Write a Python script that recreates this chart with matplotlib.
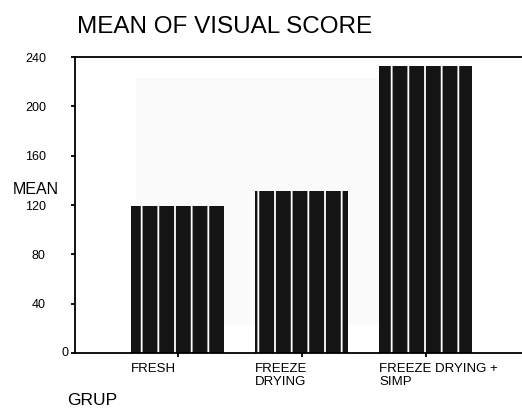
import matplotlib
matplotlib.use("Agg")
import matplotlib.pyplot as plt
import matplotlib.transforms as mtransforms
from matplotlib.patches import Rectangle

categories = ["FRESH", "FREEZE\nDRYING", "FREEZE DRYING +\nSIMP"]
means = [119, 131, 233]
yticks = [0, 40, 80, 120, 160, 200, 240]

plt.rcParams['font.family'] = ['Liberation Sans', 'DejaVu Sans']
plt.rcParams['hatch.linewidth'] = 1.3

fig = plt.figure(figsize=(5.22, 4.15), dpi=100)
ax = fig.add_axes([75/522, 62/415, 1 - 75/522, 296/415])

x = list(range(len(categories)))
# faint scanned background patch
ax.add_patch(Rectangle((0.136, 0.095), 0.546, 0.834, transform=ax.transAxes,
                       facecolor='#fafafa', edgecolor='none', zorder=0))
ax.bar(x, means, width=0.75, color='#141414', edgecolor='white', linewidth=0,
       hatch='|', zorder=2)

ax.set_xlim(-0.827, 2.778)
ax.set_ylim(0, 240)
ax.set_yticks(yticks)
ax.set_yticklabels([str(v) if v != 0 else '' for v in yticks], fontsize=9)
ax.set_xticks(x)
ax.set_xticklabels([])

trans = mtransforms.blended_transform_factory(ax.transData, ax.transAxes)
for i, lab in enumerate(categories):
    ax.text(i - 0.375, -0.035, lab, transform=trans, ha='left', va='top',
            fontsize=9.5, linespacing=1.05)

for s in ['left', 'top', 'bottom']:
    ax.spines[s].set_linewidth(1.3)
ax.spines['right'].set_visible(False)
ax.tick_params(axis='y', direction='out', length=3, width=1.3, pad=18)
ax.tick_params(axis='x', direction='out', length=3, width=1.3)

# zero label sits closer to the axis
ytr = mtransforms.blended_transform_factory(fig.transFigure, ax.transData)
ax.text(62/522, 0, "0", transform=ytr, fontsize=9, ha='left', va='center')

fig.text(77/522, 1 - 33/415, "MEAN OF VISUAL SCORE", fontsize=17.5, ha='left', va='baseline')
fig.text(13/522, 1 - 190/415, "MEAN", fontsize=11.5, ha='left', va='center')
fig.text(67/522, 1 - 400/415, "GRUP", fontsize=12.5, ha='left', va='center')

fig.savefig("out.png", dpi=100)
